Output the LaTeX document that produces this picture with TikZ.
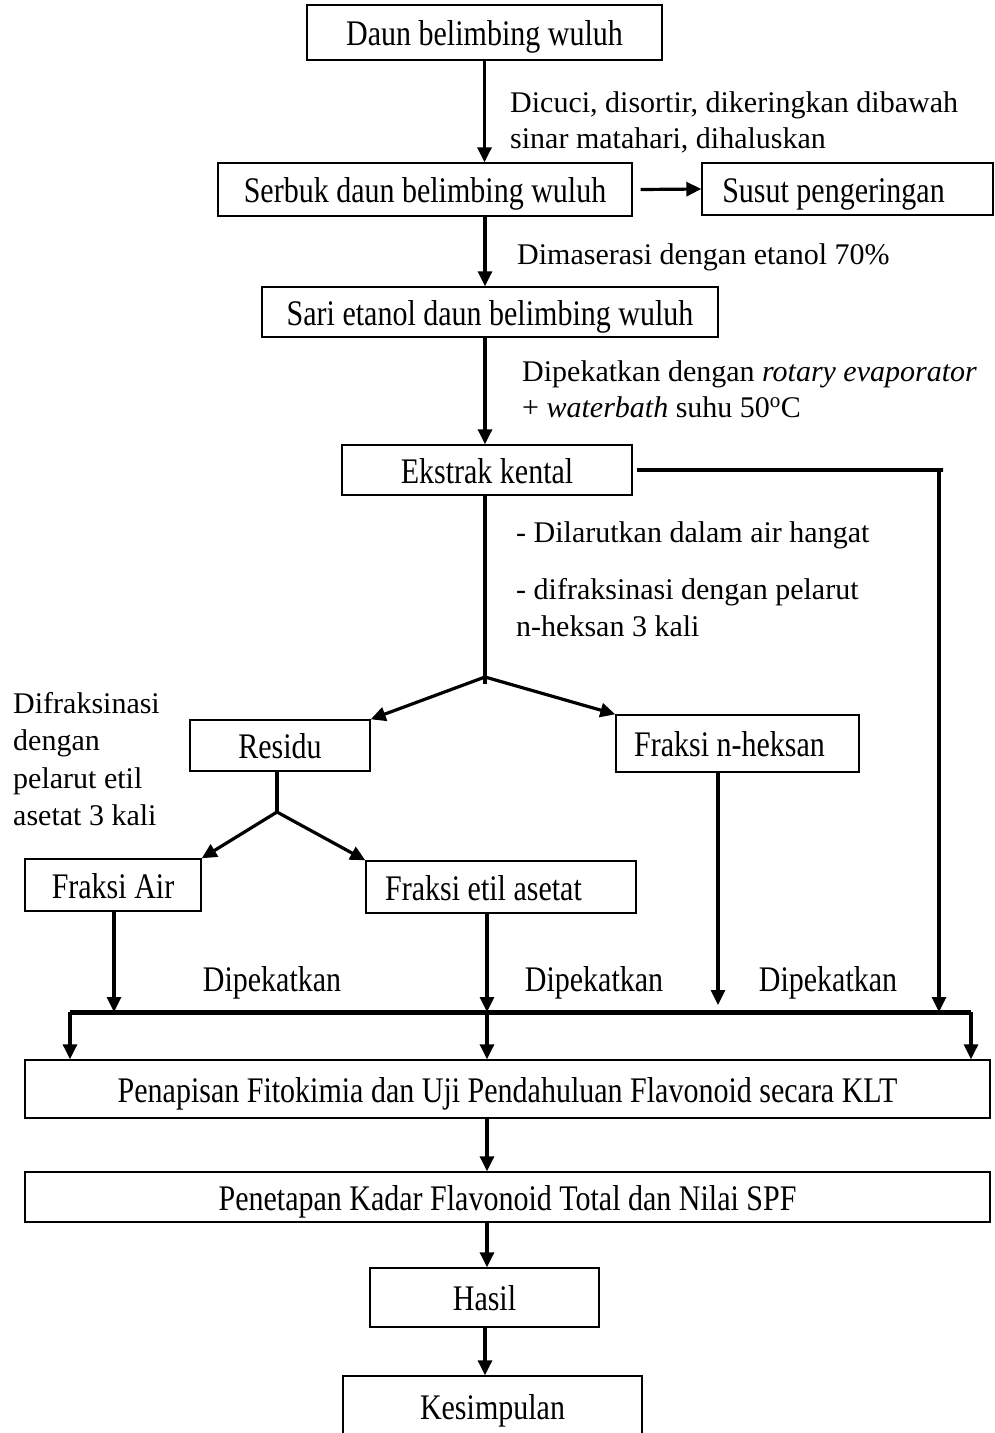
\documentclass[tikz,border=0pt]{standalone}
\usepackage{fontspec}
\usepackage{graphicx}
\setmainfont{Liberation Serif}
\usetikzlibrary{arrows.meta}
\newcommand{\bt}[1]{\scalebox{1}[1.2]{#1}}
\tikzset{
  box/.style={draw, line width=1.4pt, inner sep=0pt, text height=26pt, text depth=0pt},
  lbl/.style={anchor=base west, inner sep=0pt},
  clbl/.style={anchor=base, inner sep=0pt},
  arr/.style={line width=3.2pt, -{Triangle[length=15pt,width=14pt]}},
  ln/.style={line width=3.2pt},
  busline/.style={line width=5pt}
}
\begin{document}
\begin{tikzpicture}[x=1pt,y=-1pt,font=\fontsize{30}{36}\selectfont]
\useasboundingbox (0,0) rectangle (994,1433);
% boxes
\node[box, minimum width=355pt, minimum height=55pt] (daun) at (484.5,32.5) {\bt{Daun belimbing wuluh}};
\node[box, minimum width=414pt, minimum height=53pt] (serbuk) at (425,189.5) {\bt{Serbuk daun belimbing wuluh}};
\node[box, minimum width=291pt, minimum height=52pt] (susut) at (847.5,189) {\bt{Susut pengeringan}\kern28pt};
\node[box, minimum width=456pt, minimum height=50pt] (sari) at (490,312) {\bt{Sari etanol daun belimbing wuluh}};
\node[box, minimum width=290pt, minimum height=50pt] (ekstrak) at (487,470) {\bt{Ekstrak kental}};
\node[box, minimum width=180pt, minimum height=51pt] (residu) at (280,745.5) {\bt{Residu}};
\node[box, minimum width=243pt, minimum height=57pt] (nheksan) at (737.5,743.5) {\bt{Fraksi n-heksan}\kern16pt};
\node[box, minimum width=176pt, minimum height=52pt] (air) at (113,885) {\bt{Fraksi Air}};
\node[box, minimum width=270pt, minimum height=52pt] (etil) at (501,887) {\bt{Fraksi etil asetat}\kern35pt};
\node[box, minimum width=965pt, minimum height=58pt] (klt) at (507.5,1089) {\bt{Penapisan Fitokimia dan Uji Pendahuluan Flavonoid secara KLT}};
\node[box, minimum width=965pt, minimum height=50pt] (spf) at (507.5,1197) {\bt{Penetapan Kadar Flavonoid Total dan Nilai SPF}};
\node[box, minimum width=229pt, minimum height=59pt] (hasil) at (484.5,1297.5) {\bt{Hasil}};
\node[box, minimum width=299pt, minimum height=60pt] (kes) at (492.5,1406) {\bt{Kesimpulan}};
% labels
\node[lbl] (t1) at (510,112) {Dicuci, disortir, dikeringkan dibawah};
\node[lbl] (t2) at (510,148) {sinar matahari, dihaluskan};
\node[lbl] (t3) at (517,264) {Dimaserasi dengan etanol 70\%};
\node[lbl] (t4) at (522,381) {Dipekatkan dengan \textit{rotary evaporator}};
\node[lbl] (t5) at (522,417) {+ \textit{waterbath} suhu 50\textsuperscript{o}C};
\node[lbl] (t6) at (516,542) {- Dilarutkan dalam air hangat};
\node[lbl] (t7) at (516,599) {- difraksinasi dengan pelarut};
\node[lbl] (t8) at (516,636) {n-heksan 3 kali};
\node[lbl] (t9) at (13,713) {Difraksinasi};
\node[lbl] (t10) at (13,750) {dengan};
\node[lbl] (t11) at (13,788) {pelarut etil};
\node[lbl] (t12) at (13,825) {asetat 3 kali};
\node[clbl] (d1) at (272,991) {\bt{Dipekatkan}};
\node[clbl] (d2) at (594,991) {\bt{Dipekatkan}};
\node[clbl] (d3) at (828,991) {\bt{Dipekatkan}};
% coordinates
\coordinate (br1) at (485,677);
\coordinate (br1e) at (485,684);
\coordinate (br2) at (277,812);
\coordinate (ek) at (939,470);
\coordinate (busL) at (70,1012);
\coordinate (busM) at (487,1012);
\coordinate (busR) at (971,1012);
\coordinate (nhend) at (718,1005);
% connectors
\draw[arr] (daun.south) -- (daun.south |- serbuk.north);
\draw[arr] ([xshift=8pt]serbuk.east) -- (susut.west);
\draw[arr] (serbuk.south -| br1) -- (br1 |- sari.north);
\draw[arr] (sari.south -| br1) -- (br1 |- ekstrak.north);
\draw[ln] (ekstrak.south -| br1) -- (br1e);
\draw[arr] (br1) -- (residu.north east);
\draw[arr] (br1) -- (nheksan.north west);
\draw[ln] (residu.south -| br2) -- (br2);
\draw[arr] (br2) -- (air.north east);
\draw[arr] (br2) -- (etil.north west);
\draw[arr] ([xshift=4pt]ekstrak.east) -- ([xshift=4pt]ek) -- (ek) -- (ek |- busL);
\draw[arr] (air.south -| 114,0) -- (114,1012);
\draw[arr] (etil.south -| busM) -- (busM);
\draw[arr] (nheksan.south -| nhend) -- (nhend);
\draw[busline] (busL) -- (busR);
\draw[arr] (busL) -- (busL |- klt.north);
\draw[arr] (busM) -- (busM |- klt.north);
\draw[arr] (busR) -- (busR |- klt.north);
\draw[arr] (klt.south -| busM) -- (busM |- spf.north);
\draw[arr] (spf.south -| busM) -- (busM |- hasil.north);
\draw[arr] (hasil.south -| 485,0) -- (485,0 |- kes.north);
\end{tikzpicture}
\end{document}
